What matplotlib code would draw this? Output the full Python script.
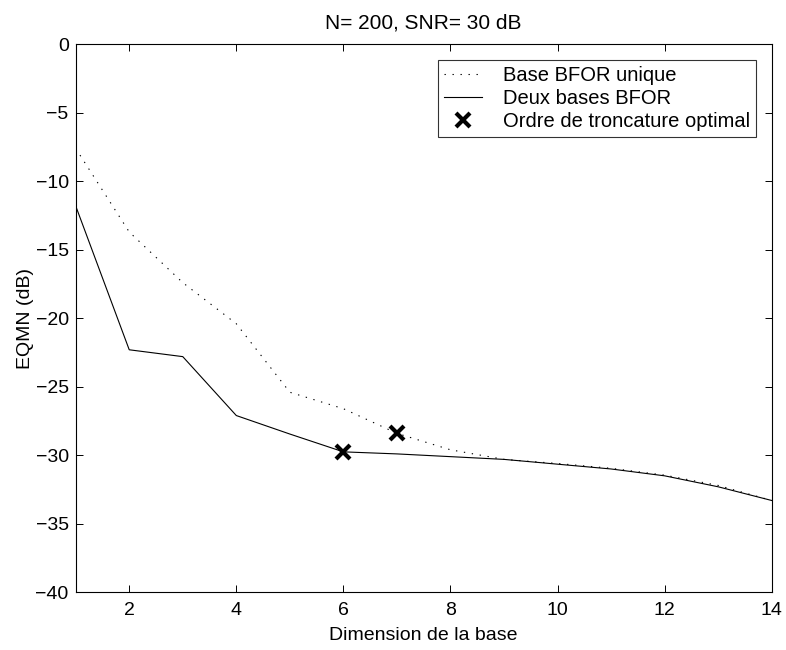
import matplotlib
matplotlib.use('Agg')
import matplotlib.pyplot as plt

plt.rcParams['font.family'] = ['Liberation Sans', 'DejaVu Sans']

# data
dims = [1, 2, 3, 4, 5, 6, 7, 8, 9, 10, 11, 12, 13, 14]
eqmn_single = [-7.6, -13.7, -17.4, -20.4, -25.4, -26.6, -28.4, -29.6,
               -30.3, -30.6, -30.95, -31.45, -32.2, -33.3]
eqmn_double = [-11.8, -22.3, -22.8, -27.1, -28.45, -29.75, -29.9, -30.1,
               -30.3, -30.65, -31.0, -31.5, -32.3, -33.3]
opt_dims = [6, 7]
opt_vals = [-29.75, -28.4]

FS = 14

fig = plt.figure(figsize=(7.86, 6.5), dpi=100)
fig.patch.set_facecolor('white')
ax = fig.add_axes([0.0963, 0.0888, 0.8855, 0.8431])

ax.plot(dims, eqmn_single, color='black', lw=0.8, linestyle=(0, (1.2, 6)),
        label='Base BFOR unique')
ax.plot(dims, eqmn_double, color='black', lw=0.8, label='Deux bases BFOR')
ax.plot(opt_dims, opt_vals, linestyle='none', marker='x', color='black',
        markersize=10, markeredgewidth=3, label='Ordre de troncature optimal')

ax.set_xlim(1, 14)
ax.set_ylim(-40, 0)
ax.set_xticks([2, 4, 6, 8, 10, 12, 14])
ax.set_yticks(range(-40, 1, 5))
ax.set_yticklabels(['\u2212%d' % -v if v < 0 else '%d' % v for v in range(-40, 1, 5)])
ax.tick_params(direction='in', length=5, width=0.7, top=True, right=True,
               labelsize=FS)
ax.tick_params(axis='x', pad=7)
ax.tick_params(axis='y', pad=5)
for sp in ax.spines.values():
    sp.set_linewidth(0.8)

ax.set_title('N= 200, SNR= 30 dB', fontsize=15, pad=11)
ax.set_xlabel('Dimension de la base', fontsize=FS, labelpad=6)
ax.set_ylabel('EQMN (dB)', fontsize=FS, labelpad=1)

leg = ax.legend(loc='upper right', bbox_to_anchor=(0.977, 0.972), fontsize=14.5,
                frameon=True, fancybox=False, edgecolor='black',
                borderpad=0.3, labelspacing=0.2, handlelength=1.9,
                handletextpad=1.0, borderaxespad=0)
leg.get_frame().set_linewidth(0.8)

fig.savefig('out.png', dpi=100)
